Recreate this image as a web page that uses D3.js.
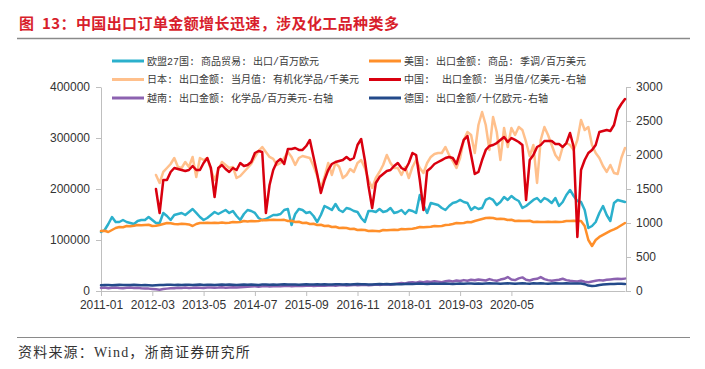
<!DOCTYPE html>
<html><head><meta charset="utf-8">
<script src="https://cdn.jsdelivr.net/npm/d3@7"></script>
<style>body{margin:0;background:#fff}svg{display:block}</style>
</head><body>
<svg id="c" width="705" height="369"></svg>
<script>
// ---------- data ----------
const categories = [];
for (let k = 0; k < 144; k++) {
  const y = 2011 + Math.floor(k / 12), m = (k % 12) + 1;
  categories.push(y + "-" + (m < 10 ? "0" + m : m));
}
const xTickLabels = ["2011-01","2012-03","2013-05","2014-07","2015-09","2016-11","2018-01","2019-03","2020-05"];
const leftTicks = [0,100000,200000,300000,400000];
const rightTicks = [0,500,1000,1500,2000,2500,3000];
const N15 = [null,null,null,null,null,null,null,null,null,null,null,null,null,null,null];

const seriesNames = [
  "欧盟27国: 商品贸易: 出口/百万欧元",
  "美国: 出口金额: 商品: 季调/百万美元",
  "日本: 出口金额: 当月值: 有机化学品/千美元",
  "中国:  出口金额: 当月值/亿美元-右轴",
  "越南: 出口金额: 化学品/百万美元-右轴",
  "德国: 出口金额/十亿欧元-右轴"
];

const eu = [115700,119600,131400,145100,135300,135300,139200,135300,133300,131400,
137300,139200,139200,145100,139200,133300,133300,153000,147100,139200,
149000,151000,153000,149000,154900,160800,153000,145100,139200,143200,
149000,154900,151000,154900,158800,153000,156900,147100,139200,151000,
158800,156900,153000,143200,139200,141200,145100,149000,149000,151000,
158800,160800,129400,151000,160800,158800,153000,154900,147100,135300,
149000,166700,162800,158800,170600,158800,154900,162800,160800,156900,
154900,143200,135300,156900,156900,154900,160800,154900,156900,162800,
153000,154900,158800,151000,158800,156900,153000,188300,168600,153000,
172600,170600,168600,162800,158800,166700,172600,174500,178500,174500,
172600,158800,164700,160800,162800,178500,182400,178500,168600,174500,
184300,178500,186300,180400,176500,162800,166700,172600,178500,182400,
174500,182400,178500,172600,182400,166700,174500,188300,198100,186300,
176500,174500,158800,123500,127500,135300,153000,166700,149000,137300,
172600,178500,176500,174500];

const us = [117600,118200,115700,119600,123500,125500,125000,127500,127000,128000,
129400,128800,129400,130000,127500,127800,129400,131400,133300,132800,
131400,131000,131800,131400,130500,127500,131400,133300,133300,134000,
133300,133800,133300,134500,133300,134000,135300,134800,135300,137300,
136500,137300,136800,137300,139200,138600,139200,139800,139200,139200,
139500,137300,137800,135300,135800,133300,133800,131400,131900,129400,
129900,127500,128000,125500,126000,123500,124000,123500,121600,122000,
119600,120100,119600,117600,118100,117600,117100,119600,119000,119600,
120000,119600,121600,121000,121600,122000,123500,125500,125000,125500,
126000,127500,127000,127500,129400,129900,131400,133300,132800,133300,
135300,134800,137300,139200,141200,143200,143800,143200,141200,141800,
141200,139200,139700,137300,137800,137300,137300,137800,135300,135800,
135300,135300,135800,135300,135800,135300,135800,137300,137300,137800,
137300,137300,127500,100000,88200,100000,106000,110000,114000,118000,
121000,124500,129000,133300];

const japan = N15.concat([227500,211800,233400,241200,249000,260800,243200,241200,253000,243200,
262800,223600,260800,256900,260800,237300,217700,237300,253000,247100,
241200,243200,221600,225500,233400,241200,249000,262800,274500,282400,
272600,262800,258900,247100,251000,260800,272600,262800,247100,260800,
264700,262800,260800,245100,225500,202000,223600,251000,227500,251000,
243200,221600,227500,239200,233400,251000,256900,241200,217700,202000,
221600,233400,247100,266700,251000,241200,241200,227500,243200,221600,
243200,256900,241200,231400,251000,262800,268700,270600,270600,282400,
266700,254900,241200,260800,296100,311800,305900,270600,325500,351000,
325500,276500,341200,311800,256900,319600,282400,319600,305900,321600,
315700,292200,264700,286300,211800,296100,321600,305900,286300,266700,
256900,282400,290200,286300,276500,296100,335300,315700,321600,286300,
270600,260800,245100,233400,247100,231400,229400,260800,280400]);

const china = N15.concat([1500,1147,1632,1632,1750,1809,1794,1779,1765,1779,
1838,1779,1779,1882,1956,1809,1382,1809,1853,1794,
1750,1809,1779,1882,1838,1853,1897,2029,2059,2044,
1147,1559,1779,1897,1941,1868,2088,2088,2103,2074,
2074,2132,2221,1971,1721,1441,1632,1779,1868,1897,
1912,1926,1971,1926,1956,2147,2235,1926,1544,1221,
1588,1676,1721,1765,1779,1838,1882,1809,1779,1882,
2029,2000,1632,1191,1765,1809,1868,1897,1926,1956,
1971,1956,1868,2044,2221,2279,2000,1721,1750,1926,
2074,2132,2147,2176,2221,2265,2191,2250,2221,2191,
2147,1338,1926,2000,2118,2147,2206,2206,2206,2162,
2162,2118,2176,2324,2118,794,1779,1926,2029,2074,
2147,2338,2353,2368,2353,2441,2662,2750,2824]);

const vietnam = [45,50,42,48,52,45,40,47,50,44,48,42,38,35,30,
25,20,28,35,40,
42,48,45,50,44,47,52,48,45,50,53,47,50,55,48,52,56,50,54,58,
62,66,70,64,68,72,66,70,74,68,72,76,70,74,78,72,76,80,74,78,
82,76,80,85,78,84,88,82,86,90,84,88,92,86,90,95,90,94,98,92,
100,110,118,112,125,130,122,135,128,140,132,145,138,130,142,150,140,155,148,160,
150,165,158,170,162,155,175,160,150,168,180,205,170,160,185,200,165,155,172,180,
205,175,160,150,158,165,180,160,150,145,140,150,135,130,140,150,160,155,165,170,175,180,178,182];

const germany = [85,88,90,86,89,92,88,90,87,91,89,86,88,84,80,86,90,88,91,93,
90,92,89,93,91,88,92,94,90,93,91,89,92,95,91,94,92,90,93,95,
92,95,93,90,94,96,93,95,92,96,98,94,97,95,92,96,98,95,97,99,
96,99,97,94,98,100,97,99,96,100,102,98,101,97,95,100,102,99,103,101,
104,101,99,103,105,102,106,110,105,103,107,109,105,108,111,107,104,108,110,106,
109,112,108,111,107,110,113,109,112,108,111,114,110,106,112,115,110,108,113,111,
114,110,108,112,115,111,109,113,110,112,112,110,100,80,72,78,88,95,100,104,102,106,105,103];

// ---------- chart ----------
const svg = d3.select("#c");
const colors = ["#2bb0cc","#ff8f2a","#ffc08c","#d9000f","#8c62b0","#234a8a"];
const axisCol = "#bfbfbf";
const cjk = "'Noto Sans CJK SC', sans-serif";
const latin = "'Liberation Sans', Arial, sans-serif";

svg.append("rect").attr("width",705).attr("height",369).attr("fill","#fff");

// title
svg.append("text").attr("x",19).attr("y",29)
  .attr("font-family",cjk).attr("font-size",15).attr("font-weight","bold")
  .attr("letter-spacing",0.4).attr("xml:space","preserve").style("white-space","pre")
  .attr("fill","#d81e2c").text("图  13：中国出口订单金额增长迅速，涉及化工品种类多");
svg.append("line").attr("x1",17).attr("x2",690).attr("y1",38.5).attr("y2",38.5)
  .attr("stroke","#8a8a8a").attr("stroke-width",1.5);

const x = d3.scaleLinear().domain([0, categories.length - 1]).range([101, 625]);
const yL = d3.scaleLinear().domain([0, 400000]).range([291, 87]);
const yR = d3.scaleLinear().domain([0, 3000]).range([291, 87]);

function styleAxis(g){
  g.select(".domain").attr("stroke",axisCol);
  g.selectAll(".tick line").attr("stroke",axisCol);
  g.selectAll(".tick text").attr("fill","#333").attr("font-family",latin).attr("font-size",12);
}

const gx = svg.append("g").attr("transform","translate(0,291)")
  .call(d3.axisBottom(x).tickValues(xTickLabels.map(l => categories.indexOf(l)))
    .tickFormat(i => categories[i]).tickSize(5).tickSizeOuter(0).tickPadding(4.5));
styleAxis(gx);
const gl = svg.append("g").attr("transform","translate(101,0)")
  .call(d3.axisLeft(yL).tickValues(leftTicks).tickFormat(d3.format("d")).tickSize(5).tickSizeOuter(0).tickPadding(6));
styleAxis(gl);
const gr = svg.append("g").attr("transform","translate(626,0)")
  .call(d3.axisRight(yR).tickValues(rightTicks).tickFormat(d3.format("d")).tickSize(5).tickSizeOuter(0).tickPadding(5));
styleAxis(gr);

const lineL = d3.line().defined(d => d != null).x((d,i) => x(i)).y(d => yL(d));
const lineR = d3.line().defined(d => d != null).x((d,i) => x(i)).y(d => yR(d));

const drawList = [
  [eu, lineL, 0], [us, lineL, 1], [japan, lineL, 2], [china, lineR, 3], [vietnam, lineR, 4], [germany, lineR, 5]
];
drawList.forEach(([data, gen, ci]) => {
  svg.append("path").datum(data).attr("d", gen)
    .attr("fill","none").attr("stroke",colors[ci]).attr("stroke-width",2.5)
    .attr("stroke-linejoin","round").attr("stroke-linecap","round");
});

// legend
const legX = [112, 369], legY = [61, 79.5, 98];
seriesNames.forEach((name, i) => {
  const cx = legX[i % 2], cy = legY[Math.floor(i / 2)];
  svg.append("line").attr("x1",cx).attr("x2",cx+32).attr("y1",cy).attr("y2",cy)
    .attr("stroke",colors[i]).attr("stroke-width",3);
  svg.append("text").attr("x",cx+35).attr("y",cy).attr("dy","0.36em")
    .attr("font-family","'Liberation Mono', 'Noto Sans CJK SC', monospace").attr("font-size",10)
    .attr("fill","#3a3a3a")
    .attr("xml:space","preserve").style("white-space","pre").text(name);
});

// source
svg.append("line").attr("x1",17).attr("x2",690).attr("y1",337.5).attr("y2",337.5)
  .attr("stroke","#8a8a8a").attr("stroke-width",1.2);
svg.append("text").attr("x",18).attr("y",357)
  .attr("font-family","'Liberation Serif', 'Noto Sans CJK SC', serif").attr("font-size",14)
  .attr("letter-spacing",1.2)
  .attr("fill","#333").text("资料来源：Wind，浙商证券研究所");
</script>
</body></html>
